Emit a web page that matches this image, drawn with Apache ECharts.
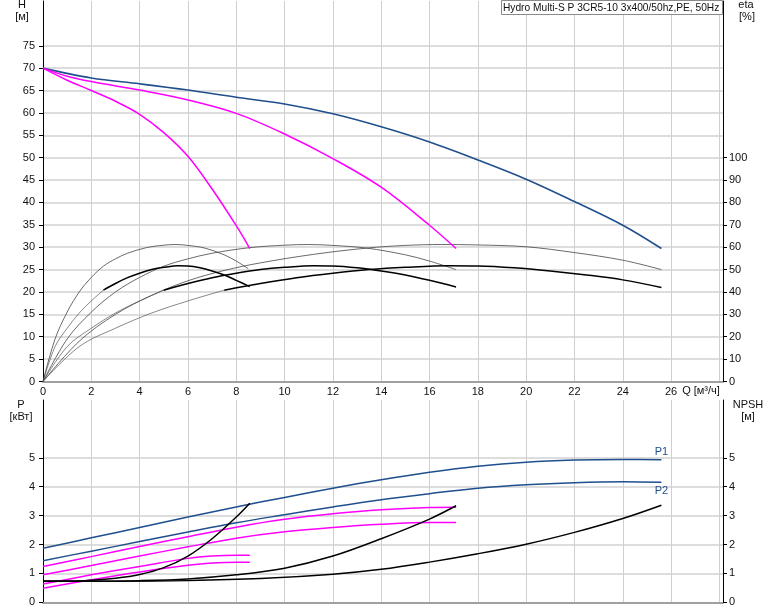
<!DOCTYPE html>
<html>
<head>
<meta charset="utf-8">
<script src="https://cdn.jsdelivr.net/npm/echarts@6/dist/echarts.min.js"></script>
<style>
html,body{margin:0;padding:0;background:#fff;}
#chart{width:774px;height:611px;}
</style>
</head>
<body>
<div id="chart"></div>
<script>
// ---------- Data (Q in m³/h) ----------
// Head curves H [m]
const headMax = [[0,70],[2,67.8],[4,66.5],[6,65.1],[8,63.5],[10,62.0],[12,59.8],[14,56.9],[16,53.5],[18,49.5],[20,45.2],[22,40.2],[24,34.9],[25.6,29.7]];
const headMid = [[0,70],[1,68.2],[2,67.0],[4,65.1],[6,62.9],[8,59.9],[10,55.3],[12,49.8],[14,43.4],[16,34.9],[17.1,29.7]];
const headLow = [[0,70],[1,67.3],[2,65.0],[3,62.6],[4,59.7],[5,55.6],[6,50.3],[7,43.0],[8,34.8],[8.56,29.7]];
// Efficiency curves eta [%] (thin: pump, thick: total)
const etaThinLow  = [[0,0],[0.5,19],[1,31],[1.5,40],[2,46.5],[2.5,51.5],[3,54.8],[3.5,57.3],[4.28,59.8],[5,60.9],[5.5,61.2],[6,60.8],[6.7,59.6],[7.5,56.6],[8,53.8],[8.5,50.4]];
const etaThinMid  = [[0,0],[1,19],[2,31],[3,40],[4,46.5],[5,51.5],[6,54.8],[7,57.3],[8.56,59.8],[10,60.9],[11,61.2],[12,60.8],[13.4,59.6],[15,56.6],[16,53.8],[17.1,50]];
const etaThinMax  = [[0,0],[1.5,18],[3,30],[4.5,38.5],[6,45],[7.5,49.6],[9,53],[11.2,56.8],[13.4,59.6],[15,60.8],[16.5,61.2],[18,61],[20,60.2],[22,57.6],[24,54.2],[25.6,50]];
const etaTotLowExt = [[0,0],[0.5,15.6],[1,23.8],[1.5,30.6],[2,36],[2.5,40.8]];
const etaTotMidExt = [[0,0],[1,15.6],[2,23.8],[3,30.6],[4,36],[5,40.8]];
const etaTotMaxExt = [[0,0],[1.5,15.6],[3,23.8],[4.5,30.6],[6,36],[7.5,40.8]];
const etaTotLow = [[2.5,40.8],[3,43.8],[3.5,46.4],[4,48.4],[4.5,50],[5,51],[5.6,51.7],[6,51.6],[6.5,50.8],[7,49.4],[7.5,47.6],[8,45.2],[8.56,42.4]];
const etaTotMid = [[5,40.8],[6,43.8],[7,46.4],[8,48.4],[9,50],[10,51],[11.2,51.7],[12,51.6],[13,50.8],[14,49.4],[15,47.6],[16,45.2],[17.1,42.2]];
const etaTotMax = [[7.5,40.8],[9,43.8],[10.5,46.4],[12,48.4],[13.5,50],[15,51],[16.8,51.7],[18,51.6],[19.5,50.8],[21,49.4],[22.5,47.6],[24,45.4],[25.6,42.0]];
// Power curves P [kW]
const p1Max = [[0,1.87],[2,2.23],[4,2.59],[6,2.95],[8,3.30],[10,3.63],[12,3.95],[14,4.24],[16,4.50],[18,4.71],[20,4.85],[22,4.92],[24,4.94],[25.6,4.93]];
const p2Max = [[0,1.44],[2,1.77],[4,2.10],[6,2.43],[8,2.75],[10,3.03],[12,3.30],[14,3.55],[16,3.76],[18,3.95],[20,4.07],[22,4.14],[24,4.17],[25.6,4.15]];
const p1Mid = [[0,1.24],[2,1.58],[4,1.93],[6,2.27],[8,2.60],[10,2.87],[12,3.06],[14,3.20],[16,3.28],[17.1,3.29]];
const p2Mid = [[0,0.95],[2,1.27],[4,1.60],[6,1.92],[8,2.22],[10,2.44],[12,2.59],[14,2.70],[16,2.76],[17.1,2.76]];
const p1Low = [[0,0.63],[2,0.95],[4,1.24],[6,1.52],[7,1.60],[8,1.63],[8.56,1.63]];
const p2Low = [[0,0.49],[2,0.78],[4,1.05],[6,1.28],[7,1.36],[8,1.39],[8.56,1.39]];
// NPSH curves [m]
const npshLow = [[0,0.73],[1,0.73],[2,0.76],[3,0.83],[4,0.96],[5,1.20],[6,1.60],[7,2.20],[8,2.95],[8.56,3.43]];
const npshMid = [[0,0.73],[2,0.73],[4,0.75],[6,0.81],[8,0.95],[10,1.18],[12,1.60],[14,2.20],[16,2.88],[17.1,3.34]];
const npshMax = [[0,0.73],[3,0.73],[6,0.75],[9,0.82],[12,0.97],[14,1.14],[16,1.39],[18,1.68],[20,2.01],[22,2.42],[24,2.90],[25.6,3.36]];
// Axis ticks
const qTicks = [0,2,4,6,8,10,12,14,16,18,20,22,24,26];
const hTicks = [0,5,10,15,20,25,30,35,40,45,50,55,60,65,70,75];
const etaTicks = [0,10,20,30,40,50,60,70,80,90,100];
const pTicks = [0,1,2,3,4,5];
const npshTicks = [0,1,2,3,4,5];
const title = 'Hydro Multi-S P 3CR5-10 3x400/50hz,PE, 50Hz';

// ---------- Styles ----------
const BLUE = '#1f4f8c', MAG = '#ff00ff', FONT = "'Liberation Sans', Arial, sans-serif";
const chart = echarts.init(document.getElementById('chart'), null, {renderer:'canvas'});
const gridLineH = {show:true, lineStyle:{color:'#d2d2d2', width:1.5}};
const gridLineV = {show:true, lineStyle:{color:'#cfcfcf', width:1}};
const lbl = {fontFamily:FONT, fontSize:11, color:'#111'};

function xAx(gi, showLabels){
  return {type:'value', gridIndex:gi, min:0, max:28.15, interval:2,
    axisLine:{show:true, onZero:false, lineStyle:{color:'#a0a0a0', width:2}},
    axisTick:{show:false},
    axisLabel:Object.assign({show:showLabels, margin:5, customValues:qTicks, formatter:v=>String(v)}, lbl),
    splitLine:gridLineV};
}
function yAx(gi, pos, max, interval, ticks, split){
  return {type:'value', gridIndex:gi, position:pos, min:0, max:max, interval:interval,
    axisLine:{show:true, onZero:false, lineStyle:{color:'#000', width:1}},
    axisTick:{show:true, length:4, customValues:ticks, lineStyle:{color:'#000'}},
    axisLabel:Object.assign({margin: pos==='left'?8:6, customValues:ticks, formatter:v=>String(v)}, lbl),
    splitLine: split ? gridLineH : {show:false}};
}
function ln(data, xi, yi, color, width, extra){
  return Object.assign({type:'line', data:data, xAxisIndex:xi, yAxisIndex:yi, smooth:0.35,
    showSymbol:false, symbol:'none', silent:true, lineStyle:{color:color, width:width}, z:3}, extra||{});
}
function txt(x, y, s, align){
  return {type:'text', x:x, y:y, style:{text:s, fill:'#111', font:'11px '+FONT, textAlign:align||'center', textVerticalAlign:'middle'}};
}

const option = {
  animation:false,
  backgroundColor:'#fff',
  grid:[
    {left:43, right:51, top:1, bottom:229.5},
    {left:43, right:51, top:400, bottom:8.7}
  ],
  xAxis:[xAx(0,true), xAx(1,false)],
  yAxis:[
    yAx(0,'left',85,5,hTicks,true),
    yAx(0,'right',170,10,etaTicks,false),
    yAx(1,'left',7,1,pTicks,true),
    yAx(1,'right',7,1,npshTicks,false)
  ],
  series:[
    ln(etaThinLow,0,1,'#444',0.8), ln(etaThinMid,0,1,'#444',0.8), ln(etaThinMax,0,1,'#444',0.8),
    ln(etaTotLowExt,0,1,'#555',0.7), ln(etaTotMidExt,0,1,'#555',0.7), ln(etaTotMaxExt,0,1,'#555',0.7),
    ln(etaTotLow,0,1,'#000',1.5), ln(etaTotMid,0,1,'#000',1.5), ln(etaTotMax,0,1,'#000',1.5),
    ln(headMax,0,0,BLUE,1.6), ln(headMid,0,0,MAG,1.5), ln(headLow,0,0,MAG,1.5),
    ln(p1Max,1,2,BLUE,1.5,{markPoint:{symbol:'circle', symbolSize:0, silent:true,
        data:[{coord:p1Max[p1Max.length-1], label:{show:true, formatter:'P1', position:'top', distance:2, color:BLUE, fontFamily:FONT, fontSize:11}}]}}),
    ln(p2Max,1,2,BLUE,1.5,{markPoint:{symbol:'circle', symbolSize:0, silent:true,
        data:[{coord:p2Max[p2Max.length-1], label:{show:true, formatter:'P2', position:'bottom', distance:3, color:BLUE, fontFamily:FONT, fontSize:11}}]}}),
    ln(p1Mid,1,2,MAG,1.5), ln(p2Mid,1,2,MAG,1.5),
    ln(p1Low,1,2,MAG,1.5), ln(p2Low,1,2,MAG,1.5),
    ln(npshLow,1,3,'#000',1.5), ln(npshMid,1,3,'#000',1.5), ln(npshMax,1,3,'#000',1.5)
  ],
  graphic:[
    txt(22,5,'H'), txt(22,17,'[м]'),
    txt(746,5,'eta'), txt(747,17,'[%]'),
    txt(21,405,'P'), txt(21,417,'[кВт]'),
    txt(748,405,'NPSH'), txt(748,417,'[м]'),
    txt(701,391,'Q [м³/ч]'),
    {type:'rect', shape:{x:501.5, y:0.5, width:221, height:14}, style:{fill:'#fff', stroke:'#8a8a8a', lineWidth:1}, z:10},
    {type:'text', x:503, y:8, z:11, style:{text:title, fill:'#111', font:'10.2px '+FONT, textAlign:'left', textVerticalAlign:'middle'}}
  ]
};
chart.setOption(option);
</script>
</body>
</html>
